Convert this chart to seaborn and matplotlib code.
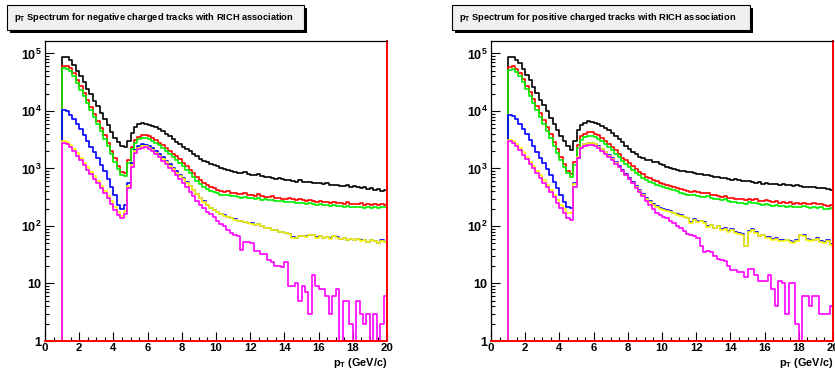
import numpy as np
import matplotlib
matplotlib.use("Agg")
import matplotlib.pyplot as plt
import seaborn as sns
from matplotlib.patches import Rectangle
from matplotlib.ticker import FixedLocator, FuncFormatter, LogLocator, MultipleLocator, NullFormatter

# ---------------------------------------------------------------- data
# pT histograms: 0.2 GeV/c bins from 1.0 to 20.0 GeV/c (empty below 1 GeV/c)
PT_MIN, PT_MAX, BIN_WIDTH = 1.0, 20.0, 0.2
Y_MIN, Y_MAX = 1.0, 1.68e5

SERIES = ["all", "red", "green", "blue", "yellow", "magenta"]
COLORS = ["#000000", "#ff0000", "#00f000", "#0000ff", "#ffff00", "#ff00ff"]

# negative charged tracks
neg_all = [88000, 86500, 77000, 63000, 50500, 40000, 31500, 24500, 19500, 15200,
           12000, 9400, 7300, 5600, 4350, 3450, 2850, 2450, 2380, 2950,
           4200, 5250, 5900, 6100, 6000, 5800, 5500, 5200, 4900, 4450,
           4000, 3600, 3250, 2900, 2650, 2400, 2200, 2000, 1800, 1620,
           1480, 1370, 1280, 1200, 1150, 1090, 1020, 990, 950, 900,
           880, 850, 830, 860, 800, 780, 760, 790, 740, 720,
           700, 690, 660, 680, 650, 630, 640, 605, 590, 620,
           590, 575, 585, 560, 565, 550, 540, 555, 525, 510,
           520, 500, 490, 510, 480, 490, 470, 455, 470, 445,
           450, 430, 440, 410, 420]
neg_red = [60000, 61500, 55000, 45000, 35000, 27000, 20500, 15500, 11700, 8900,
           6800, 5100, 3800, 2800, 2050, 1500, 1120, 870, 850, 1400,
           2400, 3150, 3550, 3750, 3800, 3630, 3390, 3090, 2820, 2570,
           2290, 2040, 1820, 1620, 1450, 1250, 1090, 950, 830, 720,
           620, 560, 510, 475, 450, 425, 410, 395, 400, 380,
           372, 365, 355, 370, 345, 350, 335, 355, 330, 325,
           320, 330, 305, 310, 300, 300, 310, 290, 285, 295,
           280, 275, 285, 268, 265, 270, 258, 262, 250, 265,
           255, 248, 240, 260, 242, 245, 238, 250, 232, 240,
           235, 245, 228, 240, 236]
neg_green = [55000, 54000, 49000, 40000, 31000, 23500, 18000, 13500, 10200, 7700,
             5900, 4400, 3300, 2450, 1800, 1300, 980, 760, 740, 1250,
             2150, 2800, 3200, 3350, 3400, 3250, 3030, 2780, 2520, 2280,
             2030, 1810, 1610, 1430, 1270, 1090, 950, 820, 710, 615,
             530, 480, 440, 410, 390, 368, 352, 345, 340, 330,
             328, 320, 312, 318, 305, 305, 296, 302, 288, 290,
             285, 282, 272, 275, 268, 265, 262, 258, 255, 252,
             250, 245, 250, 238, 236, 238, 230, 232, 225, 232,
             226, 220, 215, 225, 213, 215, 210, 218, 206, 212,
             208, 214, 202, 210, 213]
neg_blue = [10500, 10000, 8500, 7200, 6000, 4800, 3800, 3000, 2400, 1900,
            1500, 1150, 890, 660, 480, 340, 235, 195, 230, 560,
            1250, 2100, 2500, 2630, 2600, 2480, 2250, 2000, 1780, 1580,
            1370, 1190, 1030, 890, 770, 670, 580, 505, 428, 364,
            310, 268, 233, 207, 189, 176, 164, 153, 143, 137,
            130, 124, 121, 118, 113, 111, 106, 108, 99, 94,
            92, 86, 86, 80, 79, 77, 73, 64, 63, 67,
            68, 66, 71, 70, 64, 66, 63, 65, 61, 66,
            64, 60, 63, 58, 60, 57, 59, 56, 58, 53,
            56, 55, 51, 56, 52]
neg_yellow = [3000, 2900, 2600, 2200, 1850, 1530, 1270, 1060, 880, 730,
              610, 505, 412, 335, 268, 210, 175, 152, 180, 500,
              1150, 1990, 2300, 2430, 2450, 2290, 2090, 1860, 1660, 1480,
              1290, 1120, 980, 850, 740, 645, 560, 490, 417, 355,
              302, 263, 229, 204, 186, 174, 162, 151, 141, 135,
              129, 123, 120, 117, 112, 110, 105, 107, 98, 93,
              91, 85, 85, 79, 78, 76, 72, 63, 62, 66,
              68, 65, 71, 69, 63, 66, 62, 65, 60, 66,
              63, 60, 62, 58, 59, 56, 59, 55, 58, 52,
              56, 54, 51, 55, 52]
neg_magenta = [2750, 2630, 2340, 2000, 1660, 1380, 1150, 955, 795, 660,
               550, 457, 372, 302, 240, 186, 155, 135, 162, 457,
               1070, 1860, 2140, 2290, 2340, 2200, 1990, 1770, 1560, 1360,
               1180, 1030, 890, 765, 655, 560, 470, 395, 330, 275,
               230, 205, 175, 160, 145, 122, 110, 98, 85, 76,
               71, 68, 38, 53, 53, 50, 37, 36, 33, 32,
               26, 24, 20, 20, 19, 24, 9, 9, 10, 5,
               9, 7, 3, 14, 9, 8, 8, 6, 3, 6,
               8, 0, 5, 5, 2, 0, 5, 3, 2, 3,
               0, 3, 0, 2, 6]

# positive charged tracks
pos_all = [88000, 86000, 76000, 68000, 54000, 42500, 34000, 26500, 20500, 15800,
           12600, 9800, 7600, 5900, 4700, 3700, 2950, 2450, 2100, 2950,
           4700, 5750, 6300, 6600, 6500, 6200, 5900, 5500, 5000, 4600,
           4150, 3700, 3250, 2900, 2500, 2200, 1950, 1750, 1600, 1500,
           1420, 1380, 1320, 1280, 1200, 1130, 1080, 1020, 990, 950,
           920, 890, 870, 880, 830, 800, 810, 775, 760, 735,
           720, 700, 680, 690, 650, 640, 665, 620, 610, 600,
           595, 580, 570, 575, 545, 560, 545, 530, 540, 520,
           535, 515, 510, 500, 515, 490, 485, 480, 470, 480,
           460, 455, 450, 440, 415]
pos_red = [57000, 60000, 54000, 45000, 35500, 27500, 21000, 16000, 12000, 9100,
           6900, 5200, 3900, 2900, 2150, 1600, 1200, 920, 800, 1300,
           2600, 3600, 4050, 4300, 4250, 4050, 3750, 3400, 3050, 2700,
           2400, 2100, 1800, 1550, 1380, 1230, 1100, 960, 870, 790,
           720, 680, 640, 600, 565, 540, 520, 505, 480, 460,
           440, 420, 405, 395, 400, 385, 375, 370, 380, 350,
           345, 335, 325, 335, 310, 305, 300, 290, 295, 280,
           300, 285, 290, 275, 268, 280, 270, 262, 270, 255,
           262, 250, 258, 245, 250, 242, 255, 245, 240, 250,
           238, 245, 232, 226, 235]
pos_green = [52000, 53000, 48000, 40000, 31500, 24200, 18500, 14000, 10500, 8000,
             6000, 4500, 3400, 2500, 1870, 1400, 1050, 820, 720, 1150,
             2250, 3100, 3500, 3680, 3650, 3500, 3250, 2950, 2650, 2350,
             2080, 1820, 1560, 1350, 1200, 1070, 950, 830, 755, 685,
             625, 590, 555, 520, 490, 468, 450, 435, 415, 398,
             382, 365, 352, 343, 348, 335, 325, 320, 330, 305,
             300, 290, 282, 290, 270, 265, 260, 252, 256, 243,
             260, 247, 252, 238, 232, 243, 234, 227, 234, 221,
             227, 216, 224, 212, 217, 210, 221, 212, 208, 216,
             206, 212, 201, 196, 204]
pos_blue = [8500, 8300, 7200, 6000, 4900, 3900, 3100, 2450, 1950, 1550,
            1230, 980, 760, 590, 455, 345, 265, 215, 205, 550,
            1500, 2350, 2700, 2800, 2780, 2700, 2480, 2220, 1960, 1710,
            1500, 1300, 1100, 940, 800, 680, 578, 495, 422, 358,
            304, 271, 241, 220, 206, 196, 187, 179, 171, 163,
            155, 145, 139, 115, 130, 122, 124, 115, 98, 105,
            94, 101, 88, 92, 81, 88, 78, 76, 73, 45,
            82, 88, 78, 68, 71, 65, 64, 60, 62, 57,
            56, 58, 54, 52, 57, 71, 70, 60, 56, 58,
            62, 54, 52, 56, 49]
pos_yellow = [3150, 3000, 2650, 2280, 1900, 1580, 1310, 1090, 910, 760,
              630, 520, 428, 352, 288, 236, 196, 170, 166, 530,
              1580, 2400, 2620, 2750, 2740, 2630, 2400, 2140, 1900, 1660,
              1450, 1260, 1070, 910, 775, 660, 560, 480, 410, 347,
              295, 263, 234, 214, 200, 190, 182, 174, 166, 158,
              150, 141, 135, 112, 126, 118, 120, 112, 95, 102,
              91, 98, 85, 89, 79, 85, 76, 74, 71, 44,
              80, 85, 76, 66, 69, 63, 62, 58, 60, 55,
              54, 56, 52, 50, 55, 69, 68, 58, 54, 56,
              60, 52, 50, 54, 47]
pos_magenta = [2950, 2800, 2450, 2100, 1740, 1450, 1200, 1000, 830, 690,
               570, 470, 385, 315, 255, 205, 168, 138, 126, 480,
               1500, 2250, 2450, 2570, 2550, 2450, 2270, 2050, 1820, 1600,
               1400, 1220, 1050, 900, 770, 650, 550, 465, 390, 330,
               275, 230, 195, 170, 158, 146, 135, 122, 112, 100,
               92, 82, 74, 70, 66, 62, 44, 35, 36, 35,
               30, 27, 26, 25, 20, 17, 17, 16, 16, 13,
               18, 18, 14, 11, 11, 11, 14, 8, 4, 11,
               10, 3, 10, 10, 2, 0, 6, 6, 4, 6,
               6, 3, 3, 3, 4]

TITLE_NEG = r"p$_{\mathbf{T}}$ Spectrum for negative charged tracks with RICH association"
TITLE_POS = r"p$_{\mathbf{T}}$ Spectrum for positive charged tracks with RICH association"
X_LABEL = r"p$_{\mathbf{T}}$ (GeV/c)"

# ---------------------------------------------------------------- style
sns.set_theme(style="white")
plt.rcParams["font.family"] = ["Liberation Sans", "DejaVu Sans"]
plt.rcParams["font.weight"] = "bold"
plt.rcParams["mathtext.fontset"] = "custom"
plt.rcParams["mathtext.rm"] = "Liberation Sans:bold"
plt.rcParams["mathtext.bf"] = "Liberation Sans:bold"
plt.rcParams["mathtext.it"] = "Liberation Sans:bold:italic"

W, H = 835, 370
fig = plt.figure(figsize=(W / 100, H / 100), dpi=100)
fig.patch.set_facecolor("white")

n_bins = int(round((PT_MAX - PT_MIN) / BIN_WIDTH))
bin_edges = np.round(PT_MIN + BIN_WIDTH * np.arange(n_bins + 1), 2)


def frac_rect(x0, y0, x1, y1):
    """pixel box (top-left origin) -> figure fraction [l, b, w, h]"""
    return [x0 / W, 1 - y1 / H, (x1 - x0) / W, (y1 - y0) / H]


def title_box(x0, y0, x1, y1, text):
    # drop shadow then the pave itself
    l, b, w, h = frac_rect(x0 + 3, y0 + 3, x1 + 3, y1 + 3)
    fig.patches.append(Rectangle((l, b), w, h, transform=fig.transFigure,
                                 facecolor="black", edgecolor="black", lw=0))
    l, b, w, h = frac_rect(x0, y0, x1, y1)
    fig.patches.append(Rectangle((l, b), w, h, transform=fig.transFigure,
                                 facecolor="#f0f0f0", edgecolor="black", lw=0.8))
    fig.text((x0 + 7) / W, 1 - ((y0 + y1) / 2 + 0.5) / H, text, fontsize=6.7,
             fontweight="bold", ha="left", va="center", color="black")


def y_label(v, pos):
    e = int(round(np.log10(v)))
    if e == 0:
        return "1"
    if e == 1:
        return "10"
    return r"$10^{%d}$" % e


def draw_panel(ax, values):
    ax.set_yscale("log")
    for vals, color in zip(values, COLORS):
        x = np.concatenate([[0.0], bin_edges])
        y = np.concatenate([[0.0], vals, [vals[-1]]]).astype(float)
        y = np.clip(y, Y_MIN, None)
        sns.lineplot(x=x, y=y, ax=ax, color=color, lw=1.2,
                     drawstyle="steps-post", estimator=None, sort=False,
                     legend=False)
    ax.set_xlim(0, 20)
    ax.set_ylim(Y_MIN, Y_MAX)
    ax.set_xlabel("")
    ax.set_ylabel("")

    ax.yaxis.set_major_locator(FixedLocator([1, 10, 100, 1e3, 1e4, 1e5]))
    ax.yaxis.set_major_formatter(FuncFormatter(y_label))
    ax.yaxis.set_minor_locator(LogLocator(base=10, subs=np.arange(2, 10)))
    ax.yaxis.set_minor_formatter(NullFormatter())
    ax.xaxis.set_major_locator(MultipleLocator(2))
    ax.xaxis.set_minor_locator(MultipleLocator(0.5))
    ax.xaxis.set_major_formatter(FuncFormatter(lambda v, p: "%d" % v))

    ax.tick_params(which="both", direction="in", left=True, bottom=True,
                   right=False, top=False, colors="black", width=0.8)
    ax.tick_params(axis="y", which="major", length=6.2, labelsize=9, pad=2.5)
    ax.tick_params(axis="x", which="major", length=6.2, labelsize=8.2, pad=1.5)
    ax.tick_params(which="minor", length=3.0)
    for lab in ax.get_xticklabels() + ax.get_yticklabels():
        lab.set_fontweight("bold")

    for side in ["left", "top"]:
        ax.spines[side].set_color("black")
        ax.spines[side].set_linewidth(0.9)
    for side in ["bottom", "right"]:
        ax.spines[side].set_color("#ff0000")
        ax.spines[side].set_linewidth(1.4)
    ax.set_facecolor("white")

    ax.text(1.0, -0.051, X_LABEL, transform=ax.transAxes, ha="right", va="top",
            fontsize=7.8, fontweight="bold", color="black")


ax_neg = fig.add_axes(frac_rect(45, 40.5, 387, 341))
ax_pos = fig.add_axes(frac_rect(491, 40.5, 833, 341))

draw_panel(ax_neg, [neg_all, neg_red, neg_green, neg_blue, neg_yellow, neg_magenta])
draw_panel(ax_pos, [pos_all, pos_red, pos_green, pos_blue, pos_yellow, pos_magenta])

title_box(7, 5, 304, 30, TITLE_NEG)
title_box(452, 5, 750, 30, TITLE_POS)

fig.savefig("out.png", dpi=100, facecolor="white")
